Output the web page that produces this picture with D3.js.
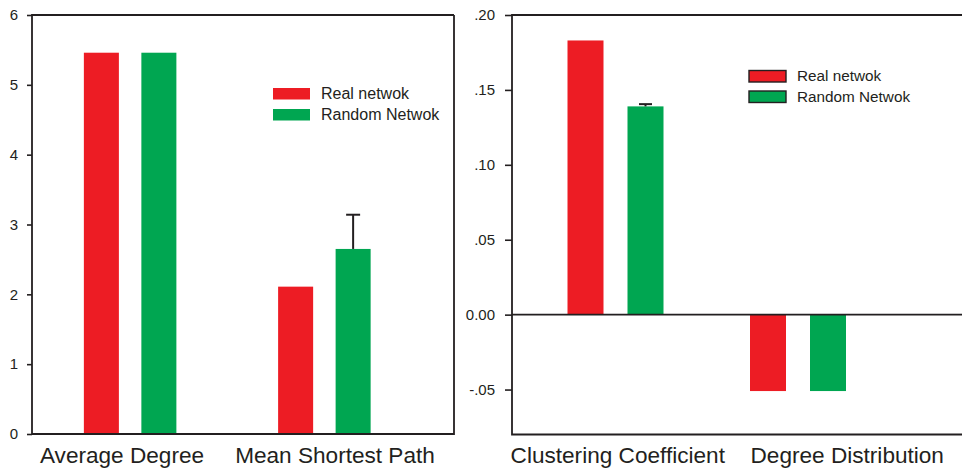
<!DOCTYPE html>
<html>
<head>
<meta charset="utf-8">
<script src="https://cdn.jsdelivr.net/npm/d3@7"></script>
<style>
  html, body { margin: 0; padding: 0; background: #fff; }
  svg { display: block; font-family: "Liberation Sans", Arial, Helvetica, sans-serif; }
</style>
</head>
<body>
<svg id="chart" width="962" height="469"></svg>
<script>
// Left panel: degree and path length
const leftCategories = ["Average Degree", "Mean Shortest Path"];
const leftReal = [5.46, 2.11];
const leftRandom = [5.46, 2.65];
const leftRandomUpper = [null, 3.14];
const leftTicks = [0, 1, 2, 3, 4, 5, 6];

// Right panel: clustering and degree distribution
const rightCategories = ["Clustering Coefficient", "Degree Distribution"];
const rightReal = [0.183, -0.051];
const rightRandom = [0.139, -0.051];
const rightRandomUpper = [0.1405, null];
const rightTicks = [-0.05, 0, 0.05, 0.10, 0.15, 0.20];
const rightTickLabels = ["-.05", "0.00", ".05", ".10", ".15", ".20"];

const seriesNames = ["Real netwok", "Random Netwok"];
const seriesColors = ["#ED1C24", "#00A651"];
const ink = "#231F20";

const svg = d3.select("#chart");

function panel(cfg) {
  const g = svg.append("g");
  const y = d3.scaleLinear().domain(cfg.yDomain).range([cfg.bottom, cfg.top]);
  const xGroup = d3.scaleBand().domain(cfg.categories).range(cfg.groupRange);
  const xSub = d3.scaleBand().domain(seriesNames)
    .range([-cfg.subSpan / 2, cfg.subSpan / 2])
    .paddingInner(cfg.subPad).paddingOuter(cfg.subPad / 2);
  const xLabel = d3.scaleBand().domain(cfg.categories).range(cfg.labelRange);

  const rows = cfg.categories.map((c, i) => ({
    cat: c,
    values: [cfg.real[i], cfg.random[i]],
    upper: cfg.upper[i]
  }));

  // bars
  rows.forEach(r => {
    const cx = xGroup(r.cat) + xGroup.bandwidth() / 2;
    r.values.forEach((v, j) => {
      g.append("rect")
        .attr("x", cx + xSub(seriesNames[j]))
        .attr("width", xSub.bandwidth())
        .attr("y", y(Math.max(0, v)))
        .attr("height", Math.abs(y(v) - y(0)))
        .attr("fill", seriesColors[j]);
    });
    if (r.upper != null) {
      const ex = cx + xSub(seriesNames[1]) + xSub.bandwidth() / 2;
      g.append("line")
        .attr("x1", ex).attr("x2", ex)
        .attr("y1", y(r.values[1])).attr("y2", y(r.upper))
        .attr("stroke", ink).attr("stroke-width", 2);
      g.append("line")
        .attr("x1", ex - cfg.cap / 2).attr("x2", ex + cfg.cap / 2)
        .attr("y1", y(r.upper)).attr("y2", y(r.upper))
        .attr("stroke", ink).attr("stroke-width", 2);
    }
  });

  // y axis
  const axis = d3.axisLeft(y).tickValues(cfg.ticks)
    .tickSize(cfg.tickSize).tickPadding(cfg.tickPad)
    .tickFormat((d, i) => cfg.tickLabels ? cfg.tickLabels[i] : d);
  const ag = g.append("g").attr("transform", `translate(${cfg.left},0)`).call(axis);
  ag.select(".domain").remove();
  ag.selectAll(".tick line").attr("stroke", ink).attr("stroke-width", 1.6);
  ag.selectAll(".tick text").attr("fill", ink).attr("font-size", 15)
    .attr("font-family", "Liberation Sans, Arial, sans-serif");

  // frame
  const frame = d3.path();
  frame.moveTo(cfg.right, cfg.top);
  frame.lineTo(cfg.left, cfg.top);
  frame.lineTo(cfg.left, cfg.bottom);
  frame.lineTo(cfg.right, cfg.bottom);
  if (cfg.closeRight) frame.lineTo(cfg.right, cfg.top);
  g.append("path").attr("d", frame.toString())
    .attr("fill", "none").attr("stroke", ink).attr("stroke-width", 1.8);

  // zero line
  if (cfg.zeroLine) {
    g.append("line")
      .attr("x1", cfg.left).attr("x2", cfg.right)
      .attr("y1", y(0)).attr("y2", y(0))
      .attr("stroke", ink).attr("stroke-width", 1.6);
  }

  // category labels
  g.selectAll("text.cat").data(cfg.categories).join("text")
    .attr("class", "cat")
    .attr("x", d => xLabel(d) + xLabel.bandwidth() / 2)
    .attr("y", 463)
    .attr("text-anchor", "middle")
    .attr("font-size", 22.6)
    .attr("fill", ink)
    .text(d => d);

  // legend
  const lg = g.append("g");
  seriesNames.forEach((name, j) => {
    const ly = cfg.legendY + j * cfg.legendGap;
    lg.append("rect")
      .attr("x", cfg.legendX).attr("y", ly)
      .attr("width", cfg.swatchW).attr("height", 11.5)
      .attr("fill", seriesColors[j])
      .attr("stroke", cfg.swatchStroke ? ink : "none")
      .attr("stroke-width", cfg.swatchStroke ? 1.4 : 0);
    lg.append("text")
      .attr("x", cfg.legendX + cfg.swatchW + cfg.legendTextGap)
      .attr("y", ly + 10.5)
      .attr("font-size", cfg.legendFont)
      .attr("fill", ink)
      .text(name);
  });
}

panel({
  categories: leftCategories, real: leftReal, random: leftRandom, upper: leftRandomUpper,
  yDomain: [0, 6], ticks: leftTicks, tickLabels: null,
  top: 15, bottom: 434, left: 32, right: 454, closeRight: true,
  groupRange: [33, 421.5], subSpan: 115, subPad: 0.391,
  labelRange: [15.5, 441.5], tickSize: 5, tickPad: 9, cap: 14,
  zeroLine: false,
  legendX: 273, legendY: 88, legendGap: 21, swatchW: 37, legendTextGap: 11,
  swatchStroke: false, legendFont: 16
});

panel({
  categories: rightCategories, real: rightReal, random: rightRandom, upper: rightRandomUpper,
  yDomain: [-0.08, 0.20], ticks: rightTicks, tickLabels: rightTickLabels,
  top: 15, bottom: 434.5, left: 512, right: 962, closeRight: false,
  groupRange: [524.25, 889.25], subSpan: 120, subPad: 0.4,
  labelRange: [503, 962], tickSize: 7, tickPad: 10, cap: 13,
  zeroLine: true,
  legendX: 749, legendY: 70.5, legendGap: 20.5, swatchW: 37, legendTextGap: 11,
  swatchStroke: true, legendFont: 15.3
});
</script>
</body>
</html>
